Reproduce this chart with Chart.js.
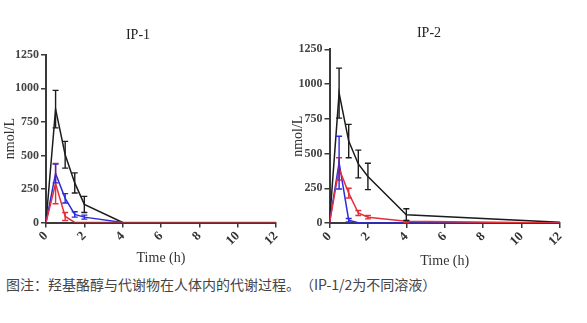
<!DOCTYPE html>
<html>
<head>
<meta charset="utf-8">
<script src="https://cdn.jsdelivr.net/npm/chart.js@4"></script>
<style>
  body { margin: 0; background: #fff; width: 587px; height: 323px; position: relative; overflow: hidden; }
  .box { position: absolute; top: 0; height: 270px; }
  #caption { position: absolute; left: 6px; top: 275px; font: 14px "Noto Sans CJK SC", sans-serif; color: #444; line-height: 18px; white-space: nowrap; text-spacing-trim: space-all; font-feature-settings: "halt" 0, "chws" 0; }
</style>
</head>
<body>
<div class="box" style="left:0;width:290px"><canvas id="ip1Chart" width="290" height="270"></canvas></div>
<div class="box" style="left:290px;width:282px"><canvas id="ip2Chart" width="282" height="270"></canvas></div>
<div id="caption">图注：羟基酪醇与代谢物在人体内的代谢过程。（IP-1/2为不同溶液）</div>
<script>
// sampling times (h)
const times = [0, 0.5, 1, 1.5, 2, 4, 12]
const xTicks = [0, 2, 4, 6, 8, 10, 12]
const yTicks = [0, 250, 500, 750, 1000, 1250]

// IP-1
const ip1Black = [0, 845, 505, 295, 135, 0, null]
const ip1BlackErr = [0, 140, 100, 75, 60, 0, null]
const ip1Blue = [0, 365, 180, 60, 40, 0, null]
const ip1BlueErr = [0, 70, 35, 20, 15, 0, null]
const ip1Red = [0, 290, 45, 0, 0, 0, 0]
const ip1RedErr = [0, 150, 30, 0, 0, 0, 0]

// IP-2
const ip2Black = [0, 935, 590, 425, 335, 60, 5]
const ip2BlackErr = [0, 180, 120, 100, 95, 43, 0]
const ip2Blue = [0, 435, 20, 2, 0, 0, 0]
const ip2BlueErr = [0, 190, 12, 0, 0, 0, 0]
const ip2Red = [0, 390, 215, 72, 42, 12, 0]
const ip2RedErr = [0, 80, 35, 18, 12, 8, 0]

const SERIF = "'Liberation Serif', 'DejaVu Serif', serif"
const AXIS = "#3a3a3a"

const toPoints = (vals) => times.map((t, i) => ({ x: t, y: vals[i] })).filter((p) => p.y !== null)

// draw SEM bars from the scales
const errorBars = {
  id: "errorBars",
  afterDatasetsDraw(chart) {
    const { ctx, scales } = chart
    ctx.save()
    chart.data.datasets.forEach((ds) => {
      ds.data.forEach((p, j) => {
        const e = ds.errors[j]
        if (!e) return
        const x = scales.x.getPixelForValue(p.x)
        const yTop = scales.y.getPixelForValue(p.y + e)
        const yBot = scales.y.getPixelForValue(Math.max(p.y - e, 0))
        ctx.strokeStyle = ds.borderColor
        ctx.lineWidth = 1.4
        ctx.beginPath()
        ctx.moveTo(x, yTop); ctx.lineTo(x, yBot)
        ctx.moveTo(x - 3, yTop); ctx.lineTo(x + 3, yTop)
        ctx.moveTo(x - 3, yBot); ctx.lineTo(x + 3, yBot)
        ctx.stroke()
      })
    })
    ctx.restore()
  },
}

function makeChart(id, title, black, blackErr, blue, blueErr, red, redErr, geo) {
  const series = [
    { label: "red", vals: red, err: redErr, color: "#e3303a" },
    { label: "blue", vals: blue, err: blueErr, color: "#2b2bdc" },
    { label: "black", vals: black, err: blackErr, color: "#1c1c1c" },
  ]
  return new Chart(document.getElementById(id), {
    type: "line",
    data: {
      datasets: series.map((s) => ({
        label: s.label,
        data: toPoints(s.vals),
        errors: s.err.filter((e, i) => s.vals[i] !== null),
        borderColor: s.color,
        borderWidth: 1.5,
        pointRadius: 0,
        tension: 0,
        fill: false,
      })),
    },
    options: {
      responsive: false,
      animation: false,
      layout: { padding: { left: 0, right: geo.right, top: 0, bottom: 0 } },
      plugins: {
        legend: { display: false },
        tooltip: { enabled: false },
        title: {
          display: true,
          text: title,
          color: "#222",
          font: { family: SERIF, size: 14, weight: "normal" },
          padding: { top: geo.titleTop, bottom: geo.titleBottom },
        },
      },
      scales: {
        x: {
          type: "linear",
          min: 0,
          max: 12,
          afterBuildTicks: (scale) => { scale.ticks = xTicks.map((v) => ({ value: v })) },
          afterFit: (scale) => { scale.height = geo.xHeight },
          ticks: {
            minRotation: 45,
            maxRotation: 45,
            padding: 1,
            color: "#333",
            font: { family: SERIF, size: 13, weight: "bold" },
            callback: (v) => String(v),
          },
          grid: { drawOnChartArea: false, drawTicks: true, tickLength: 5, color: AXIS, lineWidth: 1.5 },
          border: { display: true, color: AXIS, width: 2 },
          title: {
            display: true,
            text: "Time (h)",
            color: "#333",
            font: { family: SERIF, size: 14 },
            padding: { top: 0, bottom: geo.xTitlePad },
          },
        },
        y: {
          min: 0,
          max: 1250,
          afterBuildTicks: (scale) => { scale.ticks = yTicks.map((v) => ({ value: v })) },
          afterFit: (scale) => { scale.width = geo.yWidth },
          ticks: {
            padding: 2,
            color: "#444",
            font: { family: SERIF, size: 12, weight: "bold" },
            callback: (v) => String(v),
          },
          grid: { drawOnChartArea: false, drawTicks: true, tickLength: 5, color: AXIS, lineWidth: 1.5 },
          border: { display: true, color: AXIS, width: 2 },
          title: {
            display: true,
            text: "nmol/L",
            color: "#333",
            font: { family: SERIF, size: 14 },
            padding: { top: geo.yTitlePad, bottom: 0 },
          },
        },
      },
    },
    plugins: [errorBars],
  })
}

makeChart("ip1Chart", "IP-1", ip1Black, ip1BlackErr, ip1Blue, ip1BlueErr, ip1Red, ip1RedErr,
  { right: 14, titleTop: 27, titleBottom: 11, xHeight: 47.5, xTitlePad: 3.6, yWidth: 46, yTitlePad: 2 })
makeChart("ip2Chart", "IP-2", ip2Black, ip2BlackErr, ip2Blue, ip2BlueErr, ip2Red, ip2RedErr,
  { right: 4, titleTop: 24.6, titleBottom: 8, xHeight: 47, xTitlePad: 0.6, yWidth: 39.5, yTitlePad: 0 })
</script>
</body>
</html>
